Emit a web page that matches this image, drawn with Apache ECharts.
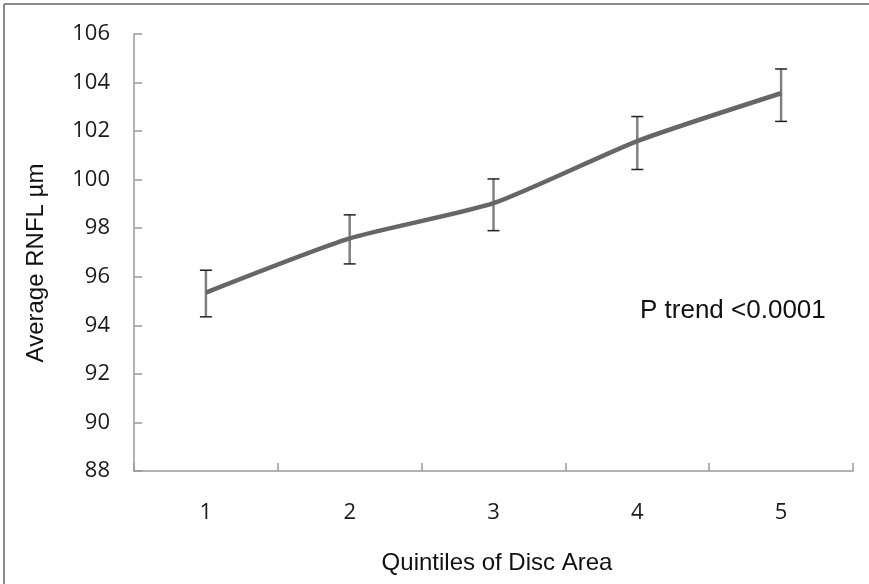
<!DOCTYPE html>
<html>
<head>
<meta charset="utf-8">
<script src="https://cdn.jsdelivr.net/npm/echarts@6/dist/echarts.min.js"></script>
<style>
html,body{margin:0;padding:0;background:#fff;}
#chart{width:869px;height:584px;}
</style>
</head>
<body>
<div id="chart"></div>
<script>
var categories = ['1', '2', '3', '4', '5'];
var means = [95.35, 97.58, 99.03, 101.59, 103.56];
var upperCI = [96.27, 98.55, 100.03, 102.6, 104.56];
var lowerCI = [94.35, 96.53, 97.9, 100.42, 102.4];
var yTicks = { min: 88, max: 106, interval: 2 };
var xTitle = 'Quintiles of Disc Area';
var yTitle = 'Average RNFL \u00b5m';
var note = 'P trend <0.0001';

var errData = categories.map(function (c, i) { return [i, lowerCI[i], upperCI[i]]; });

var chart = echarts.init(document.getElementById('chart'), null, { renderer: 'canvas' });
chart.setOption({
  animation: false,
  backgroundColor: '#ffffff',
  grid: { left: 134, right: 16, top: 34, bottom: 113, containLabel: false },
  xAxis: {
    type: 'category',
    data: categories,
    boundaryGap: true,
    axisLine: { show: true, lineStyle: { color: '#9a9a9a', width: 1.5 } },
    axisTick: { show: true, inside: true, length: 8, lineStyle: { color: '#9a9a9a', width: 1.5 } },
    axisLabel: { margin: 31, fontFamily: 'Open Sans', fontSize: 22, color: '#1a1a1a' },
    splitLine: { show: false }
  },
  yAxis: {
    type: 'value',
    min: yTicks.min, max: yTicks.max, interval: yTicks.interval,
    axisLine: { show: true, lineStyle: { color: '#9a9a9a', width: 1.5 } },
    axisTick: { show: true, inside: true, length: 8, lineStyle: { color: '#9a9a9a', width: 1.5 } },
    axisLabel: { margin: 24, fontFamily: 'Open Sans', fontSize: 22, color: '#1a1a1a' },
    splitLine: { show: false }
  },
  series: [
    {
      type: 'custom',
      z: 1,
      data: errData,
      renderItem: function (params, api) {
        var x = api.value(0);
        var lo = api.coord([x, api.value(1)]);
        var hi = api.coord([x, api.value(2)]);
        var hw = 6;
        return {
          type: 'group',
          children: [
            { type: 'line', shape: { x1: hi[0], y1: hi[1], x2: lo[0], y2: lo[1] }, style: { stroke: '#808080', lineWidth: 2.5 } },
            { type: 'line', shape: { x1: hi[0] - hw, y1: hi[1], x2: hi[0] + hw, y2: hi[1] }, style: { stroke: '#222222', lineWidth: 1.5 } },
            { type: 'line', shape: { x1: lo[0] - hw, y1: lo[1], x2: lo[0] + hw, y2: lo[1] }, style: { stroke: '#222222', lineWidth: 1.5 } }
          ]
        };
      }
    },
    {
      type: 'line',
      z: 2,
      data: means,
      smooth: 0.2,
      showSymbol: false,
      symbol: 'none',
      lineStyle: { color: '#666666', width: 4.5 }
    }
  ],
  graphic: [
    { type: 'line', shape: { x1: 4, y1: 4, x2: 869, y2: 4 }, style: { stroke: '#8a8a8a', lineWidth: 2 }, silent: true },
    { type: 'line', shape: { x1: 4, y1: 4, x2: 4, y2: 584 }, style: { stroke: '#8a8a8a', lineWidth: 2 }, silent: true },
    { type: 'text', x: 497, y: 563, style: { text: xTitle, font: '24px "Liberation Sans", Arial, sans-serif', fill: '#111', align: 'center', verticalAlign: 'middle' } },
    { type: 'text', x: 36, y: 263, rotation: Math.PI / 2, style: { text: yTitle, font: '24px "Liberation Sans", Arial, sans-serif', fill: '#111', align: 'center', verticalAlign: 'middle' } },
    { type: 'text', x: 640, y: 311, style: { text: note, font: '26px "Liberation Sans", Arial, sans-serif', fill: '#111', align: 'left', verticalAlign: 'middle' } }
  ]
});
</script>
</body>
</html>
